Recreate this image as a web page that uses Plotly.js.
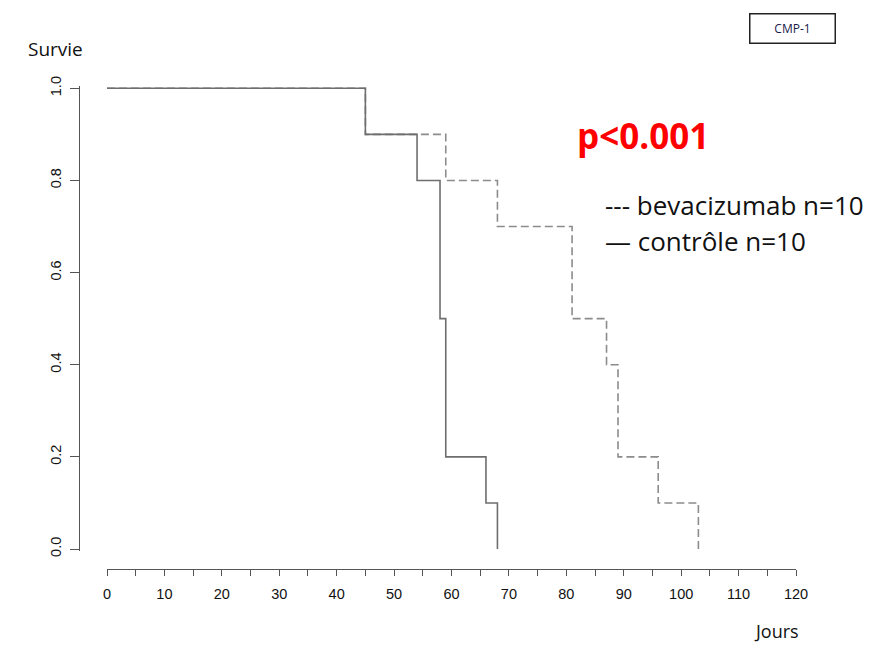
<!DOCTYPE html>
<html>
<head>
<meta charset="utf-8">
<script src="https://cdn.plot.ly/plotly-3.0.1.min.js"></script>
<style>html,body{margin:0;padding:0;background:#fff;}#chart{width:892px;height:645px;}</style>
</head>
<body>
<div id="chart"></div>
<script>
// Kaplan-Meier step data (days, survival)
const bevTimes = [0, 45, 59, 68, 81, 87, 89, 96, 103];
const bevSurv  = [1.0, 0.9, 0.8, 0.7, 0.5, 0.4, 0.2, 0.1, 0.0];
const ctlTimes = [0, 45, 54, 58, 59, 66, 68];
const ctlSurv  = [1.0, 0.9, 0.8, 0.5, 0.2, 0.1, 0.0];
const xTicks = [0, 10, 20, 30, 40, 50, 60, 70, 80, 90, 100, 110, 120];
const yTicks = [0.0, 0.2, 0.4, 0.6, 0.8, 1.0];

const W = 892, H = 645;
const mL = 79, mR = 96, mT = 86, mB = 76;
const pw = W - mL - mR, ph = H - mT - mB;
const px = v => (v - mL) / pw;
const py = v => (H - mB - v) / ph;

const traces = [
  {x: bevTimes, y: bevSurv, mode: 'lines', line: {shape: 'hv', color: '#8c8c8c', width: 1.6, dash: '8px,4px'}, name: 'bevacizumab n=10', hoverinfo: 'skip'},
  {x: ctlTimes, y: ctlSurv, mode: 'lines', line: {shape: 'hv', color: '#6e6e6e', width: 1.6}, name: 'contrôle n=10', hoverinfo: 'skip'}
];

const tickFont = {family: 'Liberation Sans, Arial, sans-serif', size: 14.5, color: '#111'};
const txtFont = 'Open Sans, Lato, sans-serif';

const layout = {
  width: W, height: H,
  margin: {l: mL, r: mR, t: mT, b: mB},
  paper_bgcolor: '#fff', plot_bgcolor: '#fff',
  showlegend: false,
  xaxis: {
    domain: [px(107), 1], range: [0, 120], anchor: 'free', position: 0,
    showline: true, linecolor: '#555', linewidth: 1,
    ticks: 'outside', ticklen: 6, tickcolor: '#555', tickwidth: 1,
    tickvals: xTicks, ticktext: xTicks.map(String),
    minor: {dtick: 5, tick0: 0, ticks: 'outside', ticklen: 6, tickcolor: '#555', tickwidth: 1, showgrid: false},
    showgrid: false, zeroline: false, tickfont: tickFont, ticklabelstandoff: 6
  },
  yaxis: {
    domain: [py(551.3), 1], range: [-0.005, 1.005], anchor: 'free', position: 0,
    showline: true, linecolor: '#555', linewidth: 1,
    ticks: 'outside', ticklen: 9, tickcolor: '#555', tickwidth: 1,
    tickvals: yTicks, ticktext: yTicks.map(v => v.toFixed(1)), tickangle: -90,
    showgrid: false, zeroline: false, tickfont: tickFont, ticklabelstandoff: 3
  },
  annotations: [
    {xref: 'paper', yref: 'paper', x: px(26), y: py(49), xanchor: 'left', yanchor: 'middle', showarrow: false,
     text: 'Survie', font: {family: txtFont, size: 19, color: '#111'}},
    {xref: 'paper', yref: 'paper', x: px(801), y: py(631), xanchor: 'right', yanchor: 'middle', showarrow: false,
     text: 'Jours', font: {family: txtFont, size: 18, color: '#111'}},
    {xref: 'paper', yref: 'paper', x: px(575), y: py(135), xanchor: 'left', yanchor: 'middle', showarrow: false,
     text: '<b>p&lt;0.001</b>', font: {family: txtFont, size: 35, color: '#ff0000'}},
    {xref: 'paper', yref: 'paper', x: px(603), y: py(205), xanchor: 'left', yanchor: 'middle', showarrow: false,
     text: '--- bevacizumab n=10', font: {family: txtFont, size: 26, color: '#111'}},
    {xref: 'paper', yref: 'paper', x: px(603), y: py(241), xanchor: 'left', yanchor: 'middle', showarrow: false,
     text: '— contrôle n=10', font: {family: txtFont, size: 26, color: '#111'}},
    {xref: 'paper', yref: 'paper', x: px(792), y: py(28), xanchor: 'center', yanchor: 'middle', showarrow: false,
     text: 'CMP-1', font: {family: txtFont, size: 12, color: '#1a1a4a'},
     bordercolor: '#222', borderwidth: 1.5, borderpad: 6, width: 72, height: 16, bgcolor: '#fff'}
  ]
};

Plotly.newPlot('chart', traces, layout, {displayModeBar: false, staticPlot: true});
</script>
</body>
</html>
